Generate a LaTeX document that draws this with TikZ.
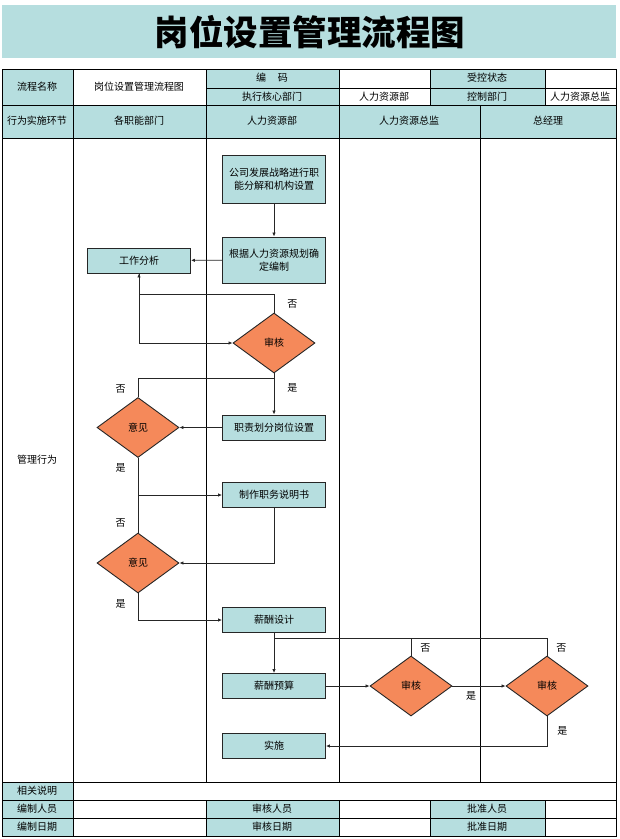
\documentclass[tikz,border=0pt]{standalone}
\usepackage{fontspec}
\setmainfont{Noto Sans CJK SC}
\usetikzlibrary{shapes.geometric,arrows.meta}
\definecolor{cellblue}{HTML}{B6DEDF}
\definecolor{deciorange}{HTML}{F5895A}
\begin{document}
\begin{tikzpicture}[x=1pt,y=-1pt,
	cell/.style={font=\fontsize{10}{12}\selectfont,inner sep=0pt},
	box/.style={draw=black!85,line width=0.9pt,fill=cellblue,minimum width=103pt,minimum height=25pt,inner sep=1pt,font=\fontsize{10}{12.5}\selectfont,align=center},
	dec/.style={diamond,draw=black!85,line width=0.9pt,fill=deciorange,minimum width=82pt,minimum height=60pt,inner sep=0pt,font=\fontsize{10}{12}\selectfont},
	lbl/.style={font=\fontsize{10}{12}\selectfont,inner sep=1pt},
	flow/.style={draw=black!85,line width=0.8pt},
	arr/.style={flow,-{Latex[length=4pt,width=3.5pt]}}]
					\useasboundingbox (0,0) rectangle (620,839);
					\fill [cellblue] (2,5) rectangle (616,58);
					\node (title) at (310,32) {\fontsize{34.5}{38}\selectfont\bfseries 岗位设置管理流程图};
					\fill [cellblue] (2,69) rectangle (73,105);
					\fill [cellblue] (206,69) rectangle (339,105);
					\fill [cellblue] (430,69) rectangle (545,105);
					\fill [cellblue] (2,105) rectangle (616,138);
					\fill [cellblue] (2,782) rectangle (73,836);
					\fill [cellblue] (206,800) rectangle (339,836);
					\fill [cellblue] (430,800) rectangle (545,836);
					\draw [line width=0.8pt] (2,69) rectangle (616,836);
					\draw [line width=0.8pt] (206,88) -- (616,88) (2,105) -- (616,105) (2,138) -- (616,138)
						(2,782) -- (616,782) (2,800) -- (616,800) (2,818) -- (616,818);
					\draw [line width=0.8pt] (73,69) -- (73,836) (206,69) -- (206,782) (339,69) -- (339,782)
						(206,800) -- (206,836) (339,800) -- (339,836) (480,105) -- (480,782);
					\draw [line width=0.8pt] (430,69) -- (430,105) (545,69) -- (545,105) (430,800) -- (430,836) (545,800) -- (545,836);
					\node [cell] (name) at (37,87) {流程名称};
					\node [cell] (namev) at (139,87) {岗位设置管理流程图};
					\node [cell] (code) at (272,78) {编\hspace{1.2em}码};
					\node [cell] (state) at (487,78) {受控状态};
					\node [cell] (exec) at (272,97) {执行核心部门};
					\node [cell] (execv) at (384,97) {人力资源部};
					\node [cell] (ctrl) at (487,97) {控制部门};
					\node [cell] (ctrlv) at (580,97) {人力资源总监};
					\node [cell] (stage) at (37,121) {行为实施环节};
					\node [cell] (lane1) at (139,121) {各职能部门};
					\node [cell] (lane2) at (272,121) {人力资源部};
					\node [cell] (lane3) at (409,121) {人力资源总监};
					\node [cell] (lane4) at (548,121) {总经理};
					\node [cell] (manage) at (37,460) {管理行为};
					\node [cell] (note) at (37,791) {相关说明};
					\node [cell] (maker) at (37,809) {编制人员};
					\node [cell] (makedate) at (37,827) {编制日期};
					\node [cell] (checker) at (272,809) {审核人员};
					\node [cell] (checkdate) at (272,827) {审核日期};
					\node [cell] (approver) at (487,809) {批准人员};
					\node [cell] (approvedate) at (487,827) {批准日期};
					\node [box,minimum height=48pt] (strategy) at (274,179) {公司发展战略进行职\\能分解和机构设置};
					\node [box,minimum height=46pt] (staffing) at (274,260) {根据人力资源规划确\\定编制};
					\node [box] (analysis) at (139,260.5) {工作分析};
					\node [dec] (check1) at (274,343) {审核};
					\node [box] (duty) at (274,427.5) {职责划分岗位设置};
					\node [dec] (opinion1) at (138,427.5) {意见};
					\node [box] (spec) at (274,495) {制作职务说明书};
					\node [dec] (opinion2) at (138,563) {意见};
					\node [box] (paydesign) at (274,620) {薪酬设计};
					\node [box] (budget) at (274,686) {薪酬预算};
					\node [dec] (check2) at (411,686) {审核};
					\node [dec] (check3) at (547,686) {审核};
					\node [box] (apply) at (274,746) {实施};
					\coordinate (join1) at (274,378);
					\coordinate (join2) at (274,638);
					\draw [arr] (strategy) -- (staffing);
					\draw [arr] (staffing) -- (analysis);
					\draw [arr] (analysis.south) |- (check1.west);
					\draw [arr] (check1.north) -- node [lbl,right=12pt] {否} ++(0,-18) -| (analysis.south);
					\draw [arr] (check1.south) -- node [lbl,right=12pt,pos=0.35] {是} (duty.north);
					\draw [arr] (duty.west) -- (opinion1.east);
					\draw [flow] (opinion1.north) -- node [lbl,left=11pt,pos=0.4] {否} (opinion1.north |- join1) -- (join1);
					\draw [arr] (opinion1.south) |- node [lbl,left=11pt,pos=0.13] {是} (spec.west);
					\draw [arr] (spec.south) |- (opinion2.east);
					\draw [flow] (opinion2.north) -- node [lbl,left=11pt,pos=0.25] {否} (opinion2.north |- spec.west);
					\draw [arr] (opinion2.south) |- node [lbl,left=11pt,pos=0.2] {是} (paydesign.west);
					\draw [arr] (paydesign) -- (budget);
					\draw [flow] (check3.north) -- node [lbl,right=8pt,pos=0.45] {否} (check3.north |- join2) -- (join2);
					\draw [flow] (check2.north) -- node [lbl,right=8pt,pos=0.45] {否} (check2.north |- join2);
					\draw [arr] (budget.east) -- (check2.west);
					\draw [arr] (check2.east) -- node [lbl,below=4pt,pos=0.35] {是} (check3.west);
					\draw [arr] (check3.south) |- node [lbl,right=9pt,pos=0.25] {是} (apply.east);
				\end{tikzpicture}
\end{document}
